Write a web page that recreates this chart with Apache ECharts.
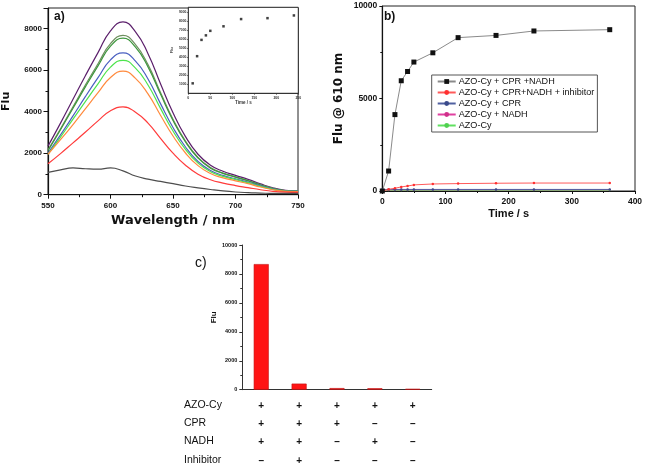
<!DOCTYPE html>
<html><head><meta charset="utf-8">
<script src="https://cdn.jsdelivr.net/npm/echarts@6/dist/echarts.min.js"></script>
<style>html,body{margin:0;padding:0;background:#fff}#c{width:650px;height:467px}</style>
</head><body><div id="c"></div>
<script>
// ---- Panel a: emission spectra ----
const wavelengths = [550,560,570,580,590,600,610,620,630,640,650,660,670,680,690,700,710,720,730,740,750];
const specPurple = [2340,3450,4600,5750,6850,7900,8330,7850,6800,5350,3950,2800,1950,1420,1130,930,740,520,330,210,170];
const specOlive  = [2160,3180,4240,5300,6310,7280,7680,7230,6270,4930,3640,2580,1800,1310,1040,860,680,480,310,200,170];
const specGreen  = [2120,3130,4170,5210,6210,7160,7550,7110,6160,4850,3580,2540,1770,1280,1030,850,670,470,300,190,170];
const specBlue   = [2000,2880,3800,4740,5640,6500,6840,6440,5580,4390,3240,2300,1600,1170,930,770,610,430,280,180,170];
const specLime   = [1950,2780,3640,4500,5340,6150,6480,6100,5290,4160,3070,2180,1520,1110,880,730,580,400,260,170,160];
const specOrange = [1950,2650,3380,4150,4920,5650,5960,5610,4860,3830,2830,2010,1400,1020,810,670,530,370,240,160,150];
const specRed    = [1490,1980,2500,3020,3560,4050,4230,3980,3450,2720,2000,1420,990,720,560,440,340,240,160,120,110];
const specGray   = [1080,1200,1290,1250,1230,1290,1150,900,750,640,530,420,330,250,180,130,100,80,60,60,60];
// inset
const insetTimes = [10,20,30,40,50,80,120,180,240];
const insetFlu   = [1100,4100,5900,6400,6900,7400,8200,8300,8600];
// ---- Panel b: kinetics ----
const kinTimes  = [0,10,20,30,40,50,80,120,180,240,360];
const kinFull   = [0,1080,4130,5960,6460,6970,7470,8290,8410,8650,8720];
const kinInhib  = [0,90,150,220,270,330,380,400,420,430,430];
const kinCPR    = [80,85,85,85,85,85,85,85,85,85,85];
const kinNADH   = [60,65,65,65,65,65,65,65,65,65,65];
const kinAZO    = [35,35,35,35,35,35,35,35,35,35,35];
const legendNames = ['AZO-Cy + CPR +NADH','AZO-Cy + CPR+NADH + inhibitor','AZO-Cy + CPR','AZO-Cy + NADH','AZO-Cy'];
// ---- Panel c: bars ----
const barCategories = ['1','2','3','4','5'];
const barValues = [8680,420,110,100,60];
const rowNames  = ['AZO-Cy','CPR','NADH','Inhibitor'];
const signAZO   = ['+','+','+','+','+'];
const signCPR   = ['+','+','+','\u2013','\u2013'];
const signNADH  = ['+','+','\u2013','+','\u2013'];
const signInhib = ['\u2013','+','\u2013','\u2013','\u2013'];

const FF = '"Liberation Sans", Arial, sans-serif';
const DJ = '"DejaVu Sans", sans-serif';
const plain = v => String(v);
const pairs = (xs, ys) => xs.map((x, i) => [x, ys[i]]);
const axLine = {show:true, lineStyle:{color:'#111', width:1.2}};
const tick = (len) => ({show:true, inside:false, length:len, lineStyle:{color:'#111', width:1}});
const minor = (len) => ({show:true, splitNumber:2, length:len, lineStyle:{color:'#111', width:1}});

const chart = echarts.init(document.getElementById('c'), null, {renderer:'canvas'});
const specLine = (name, data, color) => ({
  name, type:'line', xAxisIndex:0, yAxisIndex:0, data:pairs(wavelengths, data),
  smooth:true, showSymbol:false, symbol:'none', lineStyle:{color, width:1.2}, itemStyle:{color}, silent:true, z:2
});
const kinLine = (name, data, color, lineColor, symbol, size) => ({
  name, type:'line', xAxisIndex:2, yAxisIndex:2, data:pairs(kinTimes, data),
  symbol, symbolSize:size, showSymbol:true, itemStyle:{color}, lineStyle:{color:lineColor, width:1}, z:3
});

chart.setOption({
  animation:false,
  backgroundColor:'#fff',
  grid:[
    {left:48, top:8, width:250, height:186.7, show:true, borderColor:'#222', borderWidth:1, backgroundColor:'transparent', outerBoundsMode:'none'},
    {left:188.3, top:7.3, width:110, height:86, show:true, borderColor:'#222', borderWidth:1, backgroundColor:'#fff', outerBoundsMode:'none', z:5},
    {left:382.3, top:6, width:252.7, height:185, show:true, borderColor:'#222', borderWidth:1, outerBoundsMode:'none'},
    {left:242.3, top:245, width:189.4, height:144.7, show:false, outerBoundsMode:'none'}
  ],
  xAxis:[
    {gridIndex:0, type:'value', min:550, max:750, interval:50, axisLine:axLine, axisTick:tick(4), minorTick:minor(2.5), splitLine:{show:false},
     axisLabel:{fontFamily:FF, fontWeight:'bold', fontSize:8, color:'#111', margin:7, formatter:plain},
     name:'Wavelength / nm', nameLocation:'middle', nameGap:19, nameTextStyle:{fontFamily:DJ, fontWeight:'bold', fontSize:13, color:'#111', verticalAlign:'top'}},
    {gridIndex:1, type:'value', min:0, max:250, interval:50, axisLine:{show:true, lineStyle:{color:'#222', width:0.8}}, axisTick:{show:true, length:1.5, lineStyle:{color:'#222', width:0.6}}, splitLine:{show:false},
     axisLabel:{fontFamily:FF, fontWeight:'bold', fontSize:3.5, color:'#333', margin:2.5, formatter:plain},
     name:'Time / s', nameLocation:'middle', nameGap:7, nameTextStyle:{fontFamily:FF, fontWeight:'bold', fontSize:4.5, color:'#333'}},
    {gridIndex:2, type:'value', min:0, max:400, interval:100, axisLine:axLine, axisTick:tick(3), minorTick:minor(2), splitLine:{show:false},
     axisLabel:{fontFamily:FF, fontWeight:'bold', fontSize:8.5, color:'#111', margin:6, formatter:plain},
     name:'Time / s', nameLocation:'middle', nameGap:17, nameTextStyle:{fontFamily:FF, fontWeight:'bold', fontSize:11, color:'#111', verticalAlign:'top'}},
    {gridIndex:3, type:'category', data:barCategories, axisLine:{show:true, lineStyle:{color:'#333', width:1}}, axisTick:{show:false},
     axisLabel:{interval:0, margin:7, fontFamily:FF, fontWeight:'bold', fontSize:10, lineHeight:18.3, color:'#111',
       formatter:(v, i) => [signAZO[i], signCPR[i], signNADH[i], signInhib[i]].join('\n')}}
  ],
  yAxis:[
    {gridIndex:0, type:'value', min:0, max:9000, interval:2000, axisLine:axLine, axisTick:tick(4.5), minorTick:minor(2.5), splitLine:{show:false},
     axisLabel:{fontFamily:FF, fontWeight:'bold', fontSize:8, color:'#111', margin:6, showMaxLabel:false, formatter:plain},
     name:'Flu', nameLocation:'middle', nameGap:36, nameTextStyle:{fontFamily:DJ, fontWeight:'bold', fontSize:11, color:'#111'}},
    {gridIndex:1, type:'value', min:0, max:9500, interval:1000, axisLine:{show:true, lineStyle:{color:'#222', width:0.8}}, axisTick:{show:true, length:1.5, lineStyle:{color:'#222', width:0.6}}, splitLine:{show:false},
     axisLabel:{fontFamily:FF, fontWeight:'bold', fontSize:3.3, color:'#333', margin:2, showMinLabel:false, showMaxLabel:false, formatter:plain},
     name:'Flu', nameLocation:'middle', nameGap:14, nameTextStyle:{fontFamily:FF, fontWeight:'bold', fontSize:4, color:'#333'}},
    {gridIndex:2, type:'value', min:0, max:10000, interval:5000, axisLine:axLine, axisTick:tick(3), minorTick:minor(2), splitLine:{show:false},
     axisLabel:{fontFamily:FF, fontWeight:'bold', fontSize:8.5, color:'#111', margin:5, formatter:plain},
     name:'Flu @ 610 nm', nameLocation:'middle', nameGap:37, nameTextStyle:{fontFamily:DJ, fontWeight:'bold', fontSize:12, color:'#111'}},
    {gridIndex:3, type:'value', min:0, max:10000, interval:2000, axisLine:{show:true, lineStyle:{color:'#333', width:1}}, axisTick:{show:true, length:3, lineStyle:{color:'#333'}}, minorTick:{show:true, splitNumber:2, length:2, lineStyle:{color:'#333'}}, splitLine:{show:false},
     axisLabel:{fontFamily:FF, fontWeight:'bold', fontSize:5.5, color:'#111', margin:5, formatter:plain},
     name:'Flu', nameLocation:'middle', nameGap:24, nameTextStyle:{fontFamily:FF, fontWeight:'bold', fontSize:8, color:'#111'}}
  ],
  legend:{
    data:legendNames, orient:'vertical', left:431.7, top:75, itemWidth:18, itemHeight:6, itemGap:0,
    padding:[1,3,1,5], borderColor:'#555', borderWidth:1, backgroundColor:'#fff',
    textStyle:{fontFamily:FF, fontSize:9.1, color:'#111', lineHeight:11, padding:[0,0,0,-2]}
  },
  series:[
    specLine('a1', specPurple, '#5b1f6b'),
    specLine('a2', specOlive, '#6f8f5f'),
    specLine('a3', specGreen, '#3c963c'),
    specLine('a4', specBlue, '#4a5fc1'),
    specLine('a5', specLime, '#4ee44e'),
    specLine('a6', specOrange, '#ff8a3d'),
    specLine('a7', specRed, '#ff3b3b'),
    specLine('a8', specGray, '#4d4d4d'),
    {name:'inset', type:'scatter', xAxisIndex:1, yAxisIndex:1, data:pairs(insetTimes, insetFlu), symbol:'rect', symbolSize:2.5, itemStyle:{color:'#111'}, z:6},
    kinLine(legendNames[4], kinAZO, '#50d050', '#60e060', 'circle', 2),
    kinLine(legendNames[3], kinNADH, '#d0308a', '#e040a0', 'circle', 2),
    kinLine(legendNames[2], kinCPR, '#3a4a8a', '#5060a0', 'circle', 2.5),
    kinLine(legendNames[1], kinInhib, '#ff3030', '#ff5a5a', 'circle', 2.5),
    kinLine(legendNames[0], kinFull, '#111', '#8a8a8a', 'rect', 5),
    {name:'bars', type:'bar', xAxisIndex:3, yAxisIndex:3, data:barValues, barWidth:15,
     itemStyle:{color:'#ff1414', borderColor:'#c01010', borderWidth:0.6}}
  ],
  graphic:[
    {type:'text', left:54, top:11, style:{text:'a)', font:'bold 12px '+FF, fill:'#111'}},
    {type:'text', left:384, top:11, style:{text:'b)', font:'bold 12px '+FF, fill:'#111'}},
    {type:'text', left:195, top:256, style:{text:'c)', font:'14px '+FF, fill:'#111'}},
    ...rowNames.map((t, i) => ({type:'text', left:184, top:[405.7,424,442.3,460.7][i] - 6.5,
      style:{text:t, font:'10.5px '+FF, fill:'#111'}}))
  ]
});
</script></body></html>
